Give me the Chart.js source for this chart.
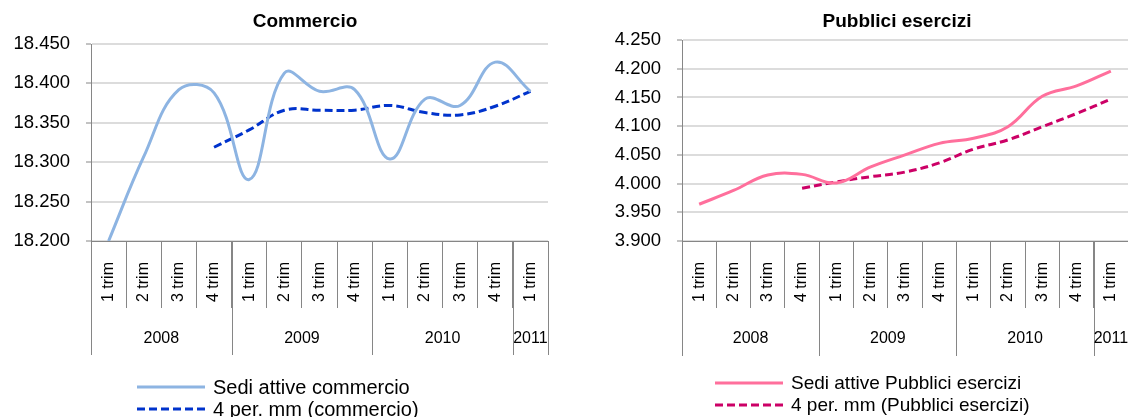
<!DOCTYPE html>
<html>
<head>
<meta charset="utf-8">
<script src="https://cdn.jsdelivr.net/npm/chart.js@4.4.0/dist/chart.umd.min.js"></script>
<style>
    body { margin: 0; background: #fff; }
    #wrap { position: relative; width: 1128px; height: 417px; overflow: hidden; }
    canvas { position: absolute; top: 0; }
</style>
</head>
<body>
<div id="wrap">
    <canvas id="commercio-chart" width="560" height="417" style="left:0"></canvas>
    <canvas id="pubblici-chart" width="568" height="417" style="left:560px"></canvas>
</div>
<script>
// quarters on the x axis, grouped by year
const quarters = ['1 trim', '2 trim', '3 trim', '4 trim',
                  '1 trim', '2 trim', '3 trim', '4 trim',
                  '1 trim', '2 trim', '3 trim', '4 trim',
                  '1 trim'];
const years = ['2008', '2009', '2010', '2011'];
const quartersPerYear = [4, 4, 4, 1];

// Commercio
const sediCommercio = [18200, 18307, 18392, 18388, 18278, 18413, 18390, 18392, 18304, 18380, 18372, 18427, 18390];
const mmCommercio = [null, null, null, 18319, 18341, 18366, 18366, 18366, 18372, 18363, 18360, 18371, 18390];
const commercioTicks = { min: 18200, max: 18450, step: 50 };

// Pubblici esercizi
const sediPubblici = [3964, 3988, 4015, 4016, 4001, 4029, 4050, 4070, 4079, 4099, 4152, 4170, 4196];
const mmPubblici = [null, null, null, 3992, 4003, 4012, 4020, 4036, 4060, 4076, 4099, 4122, 4147];
const pubbliciTicks = { min: 3900, max: 4250, step: 50 };

const FONT = '"Liberation Sans", Arial, sans-serif';
Chart.defaults.font.family = FONT;
Chart.defaults.color = '#000';

function formatThousands(v) {
    const k = Math.floor(v / 1000);
    return k + '.' + String(v % 1000).padStart(3, '0');
}

// year row, separators, title and legend drawn the way Excel does them
const excelBits = {
    id: 'excelBits',
    afterDraw(chart, args, opts) {
        const ctx = chart.ctx;
        const x = chart.scales.x;
        const area = chart.chartArea;
        const step = x.getPixelForValue(1) - x.getPixelForValue(0);
        ctx.save();
        ctx.strokeStyle = '#868686';
        ctx.lineWidth = 1;
        ctx.fillStyle = '#000';
        ctx.font = '16px ' + FONT;
        ctx.textAlign = 'center';
        ctx.textBaseline = 'middle';
        let pos = 0;
        years.forEach((yr, k) => {
            const start = x.getPixelForValue(pos) - step / 2;
            pos += quartersPerYear[k];
            const end = x.getPixelForValue(pos - 1) + step / 2;
            [start, end].forEach(px => {
                const p = Math.round(px) + 0.5;
                ctx.beginPath();
                ctx.moveTo(p, area.bottom);
                ctx.lineTo(p, opts.sepBottom);
                ctx.stroke();
            });
            ctx.fillText(yr, (start + end) / 2, opts.yearY);
        });

        ctx.font = 'bold 19px ' + FONT;
        ctx.fillText(opts.title, opts.titleX, opts.titleY);

        ctx.textAlign = 'left';
        ctx.font = opts.legendFont + 'px ' + FONT;
        chart.data.datasets.forEach((ds, k) => {
            const y = opts.legendY + k * opts.legendGap;
            ctx.strokeStyle = ds.borderColor;
            ctx.lineWidth = ds.borderWidth;
            ctx.setLineDash(ds.borderDash || []);
            ctx.beginPath();
            ctx.moveTo(opts.legendX, y);
            ctx.lineTo(opts.legendX + 68, y);
            ctx.stroke();
            ctx.setLineDash([]);
            ctx.fillText(ds.label, opts.legendX + 76, y + 1);
        });
        ctx.restore();
    }
};

function makeChart(canvas, cfg) {
    return new Chart(canvas.getContext('2d'), {
        type: 'line',
        data: {
            labels: quarters,
            datasets: [{
                label: cfg.labels[0],
                data: cfg.series,
                borderColor: cfg.colors[0],
                borderWidth: 3,
                tension: 0.4,
                pointRadius: 0,
            }, {
                label: cfg.labels[1],
                data: cfg.mm,
                borderColor: cfg.colors[1],
                borderWidth: 3,
                borderDash: [8, 4],
                tension: 0.4,
                pointRadius: 0,
            }]
        },
        options: {
            responsive: false,
            animation: false,
            layout: { padding: { top: cfg.top, right: cfg.right, left: 0, bottom: 0 } },
            plugins: {
                legend: { display: false },
                title: { display: false },
                tooltip: { enabled: false },
                excelBits: cfg.bits,
            },
            scales: {
                x: {
                    offset: true,
                    afterFit: s => { s.height = 176; },
                    border: { color: '#868686' },
                    grid: { offset: true, drawOnChartArea: false, tickLength: 67, color: '#868686' },
                    ticks: { autoSkip: false, minRotation: 90, maxRotation: 90, padding: -46, font: { size: 16 } },
                },
                y: {
                    min: cfg.ticks.min,
                    max: cfg.ticks.max,
                    afterFit: s => { s.width = cfg.axisLeft; },
                    border: { color: '#868686' },
                    grid: { color: '#dcdcdc', lineWidth: 2, tickLength: 5, tickColor: '#868686', tickWidth: 1 },
                    ticks: { stepSize: cfg.ticks.step, padding: 16, font: { size: 18.5 }, callback: v => formatThousands(v) },
                }
            }
        },
        plugins: [excelBits]
    });
}

makeChart(document.querySelector('#commercio-chart'), {
    series: sediCommercio,
    mm: mmCommercio,
    labels: ['Sedi attive commercio', '4 per. mm (commercio)'],
    colors: ['#8db4e2', '#0033cc'],
    ticks: commercioTicks,
    top: 44,
    right: 12,
    axisLeft: 91,
    bits: { title: 'Commercio', titleX: 305, titleY: 22, yearY: 339, sepBottom: 355,
            legendX: 137, legendY: 387, legendGap: 22, legendFont: 20 },
});

makeChart(document.querySelector('#pubblici-chart'), {
    series: sediPubblici,
    mm: mmPubblici,
    labels: ['Sedi attive Pubblici esercizi', '4 per. mm (Pubblici esercizi)'],
    colors: ['#ff6f9c', '#cc0066'],
    ticks: pubbliciTicks,
    top: 40,
    right: 0,
    axisLeft: 122,
    bits: { title: 'Pubblici esercizi', titleX: 337, titleY: 22, yearY: 339, sepBottom: 356,
            legendX: 155, legendY: 383, legendGap: 22, legendFont: 19 },
});
</script>
</body>
</html>
